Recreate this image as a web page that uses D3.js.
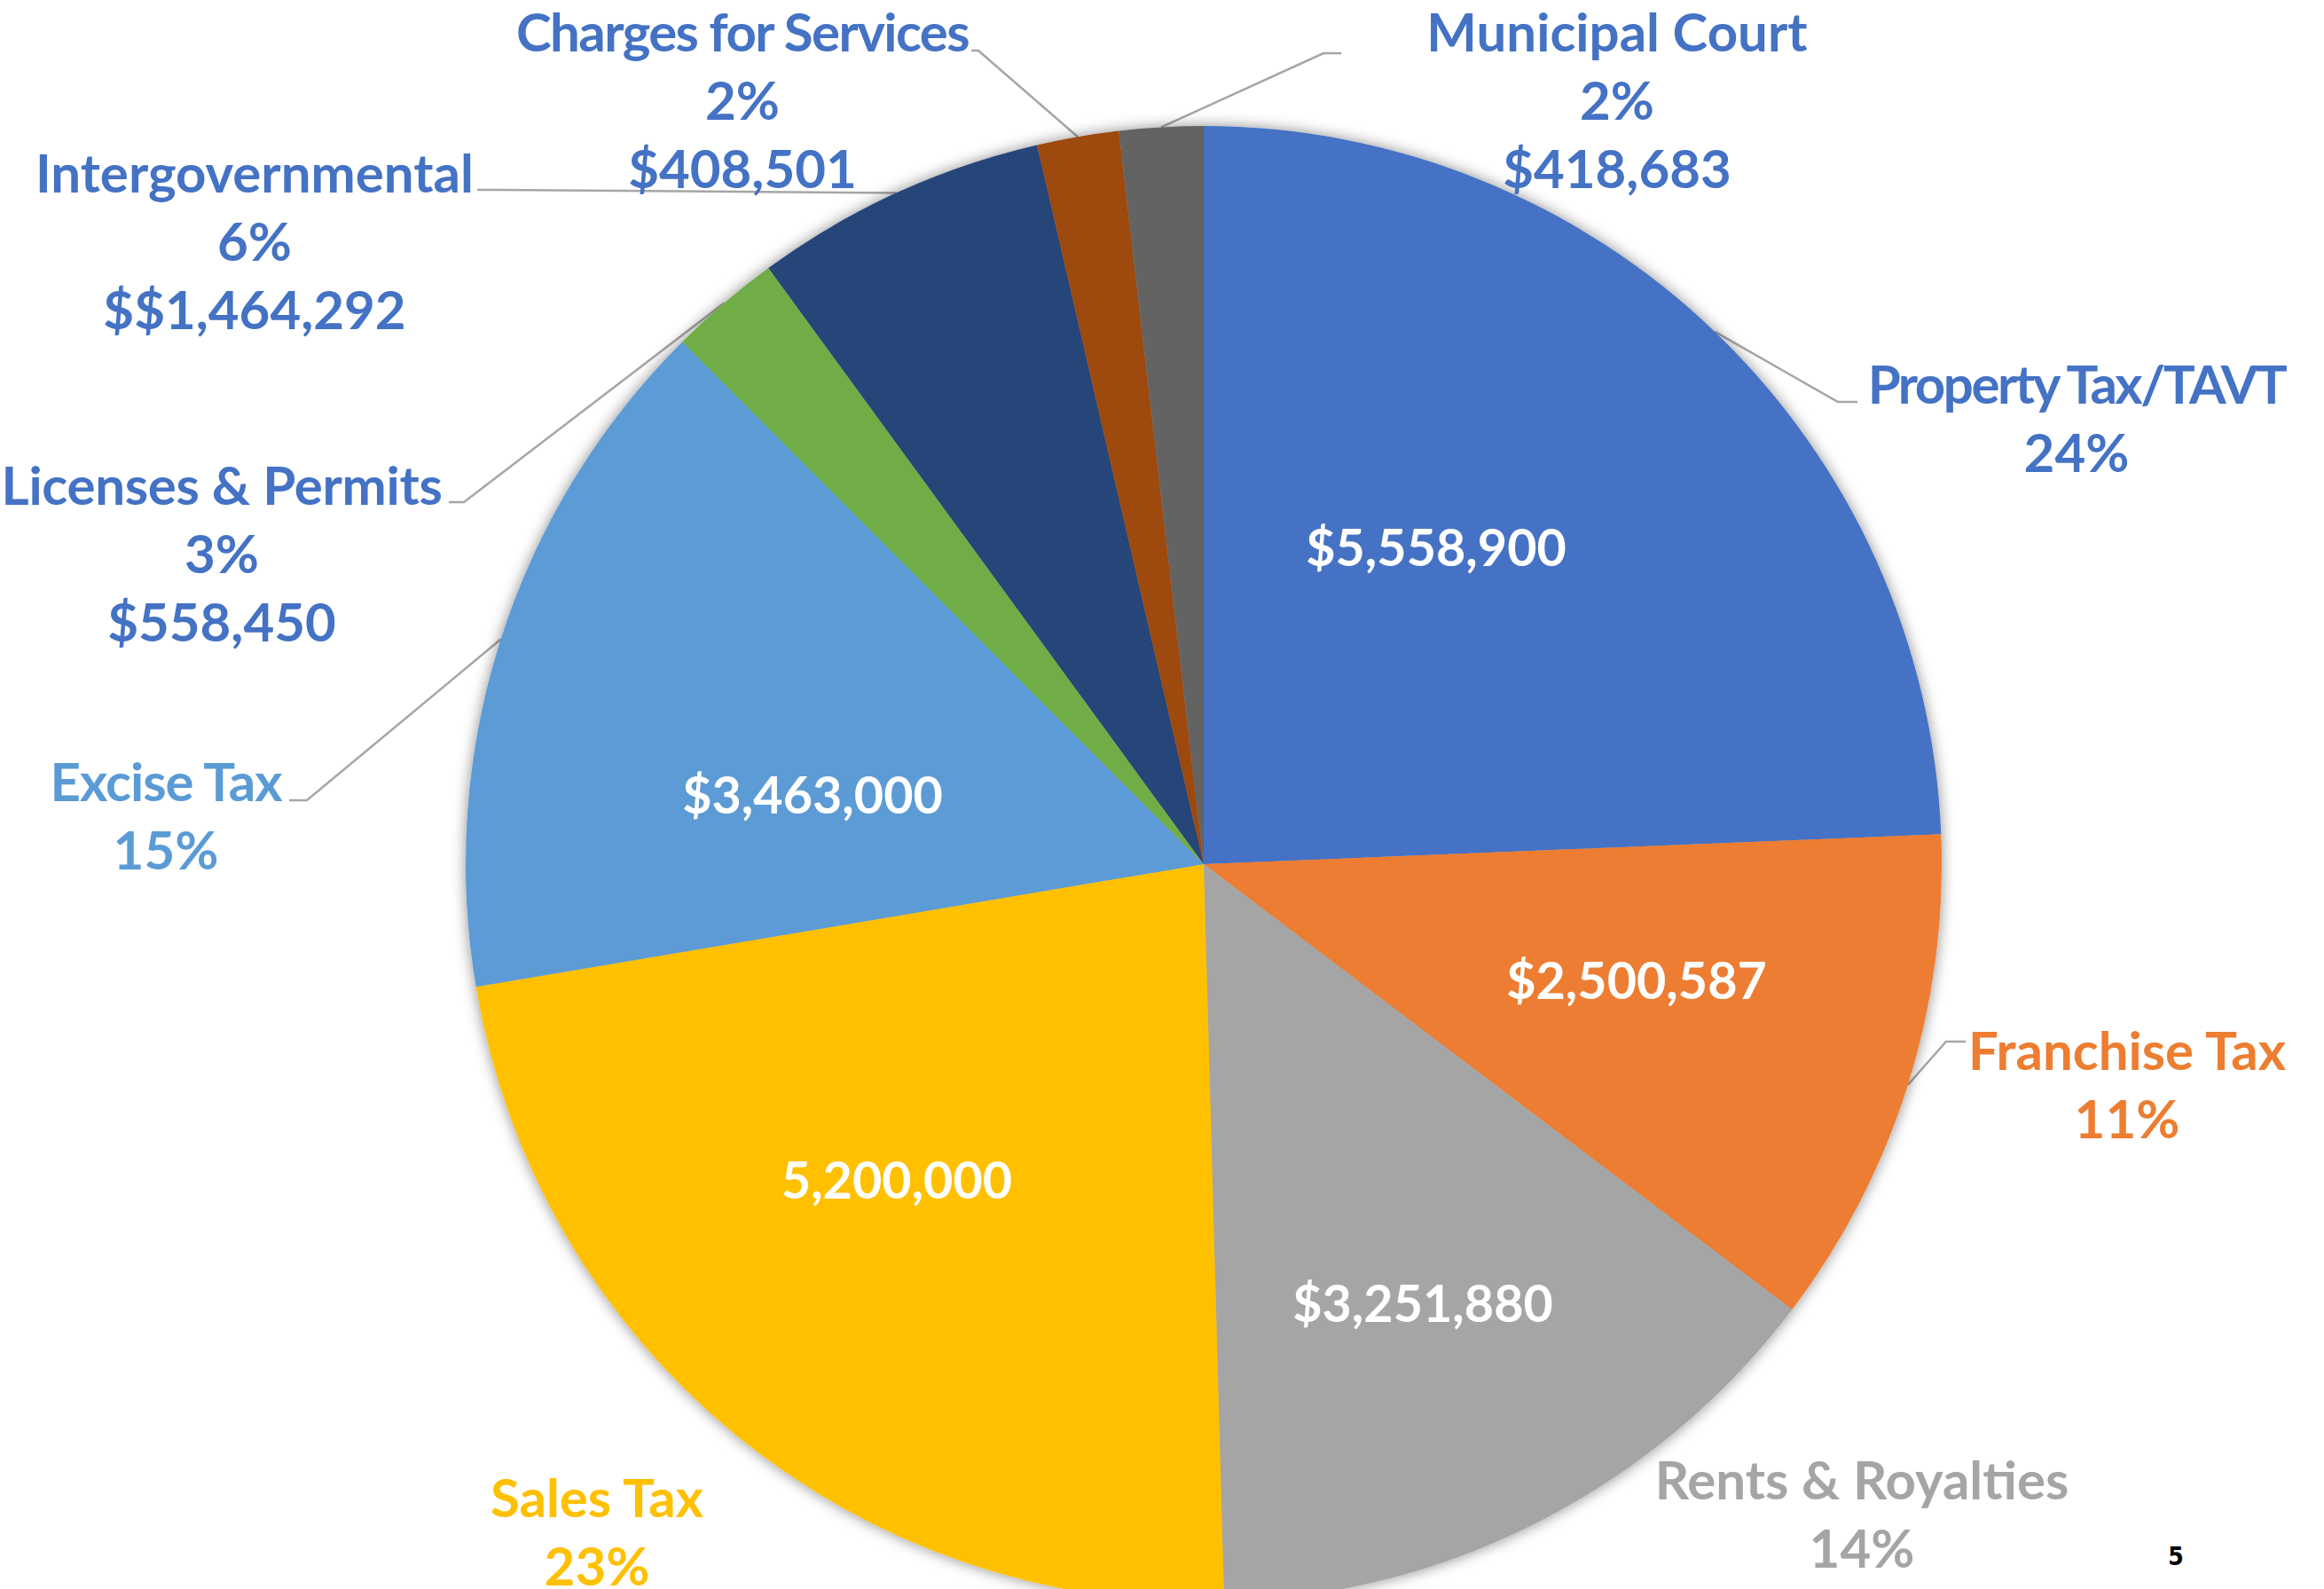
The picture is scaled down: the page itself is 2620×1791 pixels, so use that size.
<!DOCTYPE html>
<html>
<head>
<meta charset="utf-8">
<script src="https://cdn.jsdelivr.net/npm/d3@7"></script>
<style>
  body { margin: 0; background: #fff; }
  svg { display: block; }
  text { font-family: Lato, "Open Sans", sans-serif; font-weight: bold; }
</style>
</head>
<body>
<svg id="chart" width="2620" height="1791"></svg>
<script>
// data, clockwise from 12 o'clock
var categories = ['Property Tax/TAVT', 'Franchise Tax', 'Rents & Royalties', 'Sales Tax',
    'Excise Tax', 'Licenses & Permits', 'Intergovernmental', 'Charges for Services', 'Municipal Court'];
var revenue = [5558900, 2500587, 3251880, 5200000, 3463000, 558450, 1464292, 408501, 418683];
// label texts as printed on the slide (kept verbatim, typos included)
var pctLabels = ['24%', '11%', '14%', '23%', '15%', '3%', '6%', '2%', '2%'];
var valueLabels = ['$5,558,900', '$2,500,587', '$3,251,880', '5,200,000', '$3,463,000',
    '$558,450', '$$1,464,292', '$408,501', '$418,683'];
var valueInside = [true, true, true, true, true, false, false, false, false];

var sliceColors = ['#4472C4', '#ED7D31', '#A5A5A5', '#FFC000', '#5B9BD5', '#70AD47', '#264478', '#9E480E', '#636363'];
var labelColors = ['#4472C4', '#ED7D31', '#A5A5A5', '#FFC000', '#5B9BD5', '#4472C4', '#4472C4', '#4472C4', '#4472C4'];

// layout: where the outside labels sit (center of first line) and leader elbows
var cx = 1357, cy = 974, R = 832;
var outerPos = [[2341, 434], [2398, 1185], [2099, 1669], [673, 1689], [187, 882],
    [250, 548], [287, 196], [837, 37], [1823, 37]];
var outerTracking = [-2.5, 0, 0, 0, -1, -0.3, 0, -1.6, 0];
var innerPos = [[1619, 617], [1845, 1105], [1604, 1469], [1011, 1330], [916, 896]];
var leaders = [[[2072, 453], [2094, 453]], [[2194, 1174], [2216, 1174]], null, null,
    [[346, 902], [326, 902]], [[523, 566], [506, 566]], [[560, 214], [538, 214]],
    [[1103, 57], [1095, 57]], [[1492, 60], [1512, 60]]];

var outerSize = 60, innerSize = 57.5, lineStep = 77;

var svg = d3.select('#chart');

// soft shadow around the pie
var filter = svg.append('defs').append('filter')
    .attr('id', 'shadow')
    .attr('x', '-10%').attr('y', '-10%')
    .attr('width', '120%').attr('height', '120%');
filter.append('feDropShadow')
    .attr('dx', 0).attr('dy', 0)
    .attr('stdDeviation', 8)
    .attr('flood-color', '#000')
    .attr('flood-opacity', 0.45);

var slices = categories.map(function(c, i) {
    return { name: c, value: revenue[i], i: i };
});

var pie = d3.pie().sort(null).value(function(d) { return d.value; });
var arcs = pie(slices);
var arc = d3.arc().innerRadius(0).outerRadius(R);

// leader lines go under the pie
var lineGroup = svg.append('g');
arcs.forEach(function(a, i) {
    if (!leaders[i]) return;
    var mid = (a.startAngle + a.endAngle) / 2;
    var p0 = [cx + R * Math.sin(mid), cy - R * Math.cos(mid)];
    var pts = [p0].concat(leaders[i]);
    lineGroup.append('path')
        .attr('d', d3.line()(pts))
        .attr('fill', 'none')
        .attr('stroke', '#A6A6A6')
        .attr('stroke-width', 2.5);
});

// this is the pie itself
var pieGroup = svg.append('g')
    .attr('transform', 'translate(' + cx + ',' + cy + ')')
    .attr('filter', 'url(#shadow)');
pieGroup.selectAll('path')
    .data(arcs)
    .enter().append('path')
    .attr('d', arc)
    .attr('fill', function(d) { return sliceColors[d.data.i]; });

// outside labels
var capShift = function(size) { return size * 0.358; };
arcs.forEach(function(a, i) {
    var lines = [categories[i], pctLabels[i]];
    if (!valueInside[i]) lines.push(valueLabels[i]);
    var t = svg.append('text')
        .attr('text-anchor', 'middle')
        .attr('font-size', outerSize)
        .attr('fill', labelColors[i]);
    lines.forEach(function(s, k) {
        t.append('tspan')
            .attr('x', outerPos[i][0])
            .attr('y', outerPos[i][1] + k * lineStep + capShift(outerSize))
            .attr('letter-spacing', k == 0 ? outerTracking[i] : 0)
            .text(s);
    });
});

// values printed inside the big slices
var k = 0;
arcs.forEach(function(a, i) {
    if (!valueInside[i]) return;
    svg.append('text')
        .attr('text-anchor', 'middle')
        .attr('font-size', innerSize)
        .attr('fill', '#fff')
        .attr('x', innerPos[k][0])
        .attr('y', innerPos[k][1] + capShift(innerSize))
        .text(valueLabels[i]);
    k++;
});

// slide number
svg.append('text')
    .attr('x', 2453).attr('y', 1764)
    .attr('text-anchor', 'middle')
    .attr('font-size', 28)
    .attr('font-weight', 'normal')
    .style('font-family', '"Liberation Sans Narrow", "DejaVu Sans Condensed", sans-serif')
    .attr('fill', '#000')
    .text('5');
</script>
</body>
</html>
